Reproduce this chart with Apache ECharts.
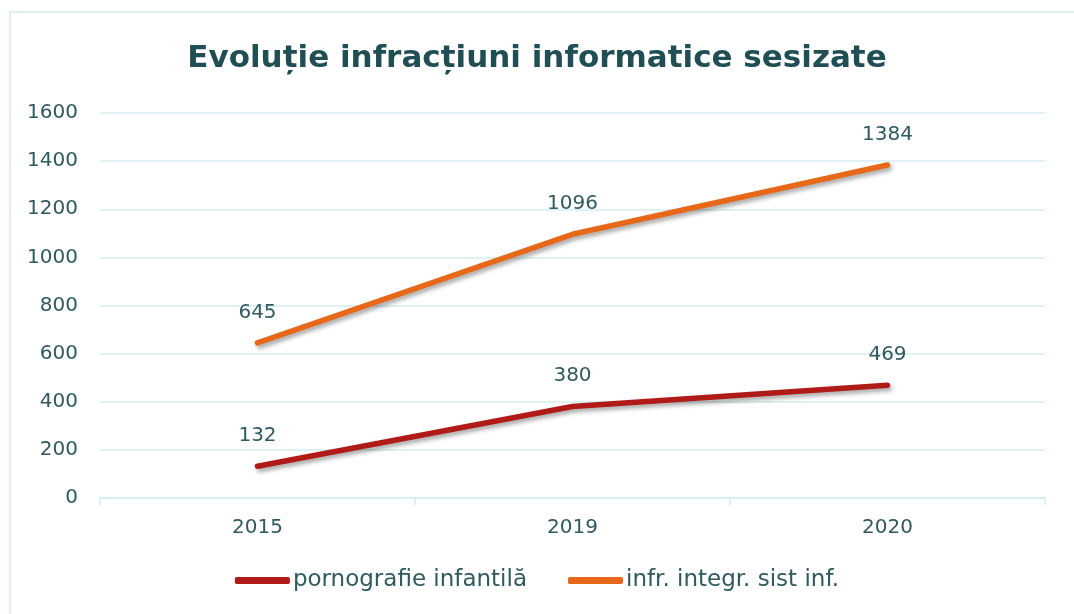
<!DOCTYPE html>
<html>
<head>
<meta charset="utf-8">
<script src="https://cdn.jsdelivr.net/npm/echarts@6/dist/echarts.min.js"></script>
<style>
  html, body { margin: 0; padding: 0; background: #fff; }
  #main { width: 1074px; height: 614px; }
</style>
</head>
<body>
<div id="main"></div>
<script>
var years = ['2015', '2019', '2020'];
var pornografie = [132, 380, 469];
var infrIntegr = [645, 1096, 1384];
var yTicks = [0, 200, 400, 600, 800, 1000, 1200, 1400, 1600];

var textColor = '#2e5a60';
var gridColor = '#d3ecf1';
var font = '"DejaVu Sans", sans-serif';

var myChart = echarts.init(document.getElementById('main'));

function lineSeries(name, data, color) {
    return {
        name: name,
        type: 'line',
        data: data,
        symbol: 'circle',
        symbolSize: 1,
        itemStyle: { color: color },
        lineStyle: {
            width: 5.5,
            color: color,
            cap: 'round',
            shadowColor: 'rgba(0,0,0,0.35)',
            shadowBlur: 4,
            shadowOffsetX: 2,
            shadowOffsetY: 3
        },
        label: {
            show: true,
            position: 'top',
            distance: 20,
            color: textColor,
            fontSize: 20,
            fontFamily: font
        }
    };
}

var option = {
    animation: false,
    title: {
        text: 'Evoluție infracțiuni informatice sesizate',
        left: 'center',
        top: 38,
        textStyle: {
            color: '#1f4f55',
            fontSize: 31,
            fontWeight: 'bold',
            fontFamily: font
        }
    },
    graphic: [{
        type: 'rect',
        shape: { x: 10, y: 12, width: 1080, height: 640 },
        style: { fill: 'none', stroke: gridColor, lineWidth: 1.5 },
        silent: true
    }],
    legend: {
        bottom: 17,
        left: 'center',
        itemWidth: 55,
        itemHeight: 7,
        itemGap: 41,
        icon: 'roundRect',
        textStyle: { color: textColor, fontSize: 23, fontFamily: font, padding: [0, 0, 0, -2] },
        data: ['pornografie infantilă', 'infr. integr. sist inf.']
    },
    grid: { left: 100, right: 29, top: 113, bottom: 116 },
    xAxis: {
        type: 'category',
        data: years,
        boundaryGap: true,
        axisLine: { lineStyle: { color: gridColor, width: 1.5 } },
        axisTick: { show: true, length: 7, lineStyle: { color: gridColor, width: 1.5 } },
        axisLabel: { color: textColor, fontSize: 20, fontFamily: font, margin: 20 }
    },
    yAxis: {
        type: 'value',
        min: yTicks[0],
        max: yTicks[yTicks.length - 1],
        interval: 200,
        axisLine: { show: false },
        axisTick: { show: false },
        axisLabel: {
            color: textColor, fontSize: 20, fontFamily: font, margin: 22,
            formatter: function (v) { return String(v); }
        },
        splitLine: { lineStyle: { color: gridColor, width: 1.5 } }
    },
    series: [
        lineSeries('pornografie infantilă', pornografie, '#b01a17'),
        lineSeries('infr. integr. sist inf.', infrIntegr, '#e8681a')
    ]
};

myChart.setOption(option);
</script>
</body>
</html>
